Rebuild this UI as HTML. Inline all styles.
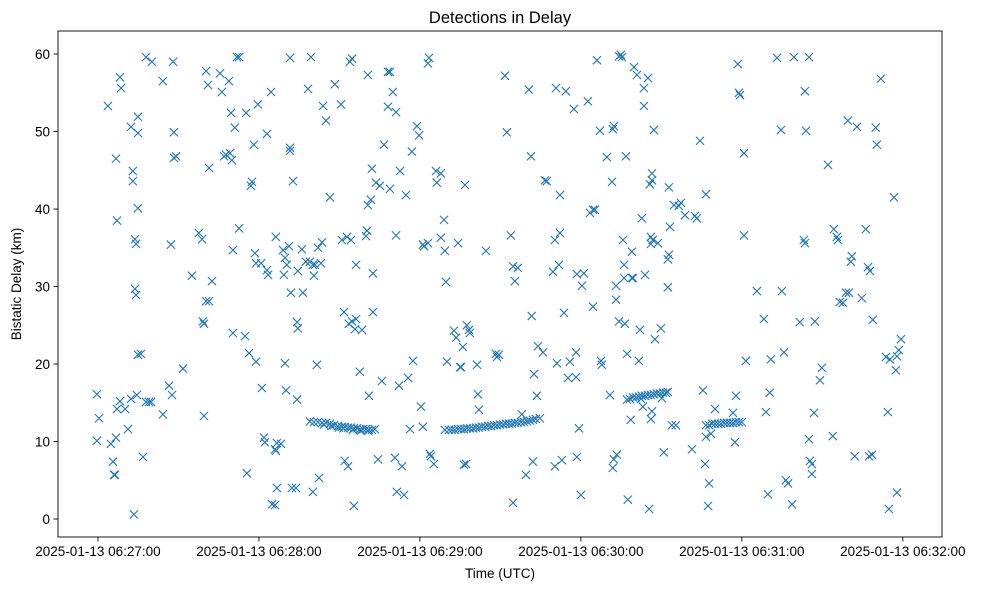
<!DOCTYPE html>
<html><head><meta charset="utf-8"><style>
body{margin:0;background:#fff;}
svg{display:block;font-family:"Liberation Sans","DejaVu Sans",sans-serif;}
</style></head><body>
<svg id="chart" width="985" height="590" xmlns="http://www.w3.org/2000/svg"></svg>
<script>
// seconds after 2025-01-13 06:27:00 , bistatic delay (km)
const scatterT=[-0.4,-0.4,0.4,3.7,4.8,5.6,6.0,6.3,6.7,7.1,8.2,8.2,8.6,6.7,7.1,10.1,11.2,12.3,12.3,13.0,13.0,13.4,13.8,13.8,14.2,14.5,14.9,14.9,14.2,14.9,14.9,16.0,16.8,17.9,17.9,19.0,19.8,20.1,24.2,24.2,26.5,28.0,28.3,28.3,27.2,27.6,29.1,31.7,35.0,37.6,38.8,39.1,39.5,39.5,40.3,40.3,41.4,41.0,41.4,42.5,45.5,46.2,47.0,47.7,48.8,49.2,49.6,49.9,50.3,50.3,51.0,51.8,52.6,52.6,54.8,55.2,55.5,56.3,57.0,57.4,58.1,58.5,58.9,58.9,59.6,60.8,61.1,61.9,62.2,63.0,63.0,63.4,64.5,64.9,66.0,66.7,66.0,66.3,66.3,66.7,68.2,69.0,69.3,69.7,69.7,70.1,70.4,71.2,71.6,71.6,71.6,71.9,72.3,72.7,73.8,74.2,74.5,74.2,74.5,76.0,76.4,77.5,78.3,79.0,79.4,80.1,80.1,80.5,80.9,81.6,82.0,82.4,83.1,83.5,83.9,85.0,86.5,88.3,90.6,90.9,91.7,92.0,92.8,93.2,93.5,93.9,94.3,94.7,94.7,95.4,95.8,96.2,96.2,97.6,98.4,99.9,100.3,100.6,100.6,101.0,101.7,102.1,102.5,102.5,103.6,104.4,105.1,105.8,106.6,108.1,108.1,108.8,108.8,109.9,110.7,111.1,111.1,111.4,112.2,112.6,113.3,114.1,114.8,115.6,116.3,117.0,117.4,118.9,119.7,120.4,121.1,121.1,121.5,123.0,123.0,123.4,123.7,124.1,125.2,126.0,126.3,127.8,127.8,129.0,129.3,129.7,130.1,132.7,133.5,134.2,135.0,135.3,136.0,136.4,136.8,137.2,137.5,138.3,138.6,141.3,141.6,142.0,144.6,148.3,148.7,149.4,151.7,152.4,153.9,154.7,154.7,155.4,156.5,158.0,159.5,160.6,161.4,161.7,162.1,162.5,163.6,164.0,165.9,166.6,167.3,169.6,170.3,170.3,170.7,171.1,171.8,172.2,172.2,172.9,173.7,174.4,175.2,175.9,177.4,178.2,178.2,178.5,178.5,179.3,180.0,180.4,181.1,182.6,183.4,184.5,184.5,185.2,186.0,187.1,187.5,187.8,189.7,190.8,191.6,191.9,191.9,192.3,192.3,193.1,193.1,193.4,194.2,194.2,194.9,195.3,195.7,196.1,196.1,196.4,196.8,197.2,197.5,198.6,199.0,199.0,199.4,199.8,200.9,201.6,202.0,202.4,202.7,203.1,203.5,203.5,203.9,205.0,205.4,205.7,206.1,206.1,206.1,206.5,206.5,206.5,206.8,207.2,207.6,208.7,209.8,210.2,210.9,212.4,212.4,212.8,212.8,213.2,213.9,214.7,215.4,216.5,217.3,218.8,221.4,222.5,223.2,224.4,225.5,226.3,226.6,226.6,227.4,227.8,228.5,230.0,236.7,237.4,237.8,238.5,238.9,239.3,240.8,240.8,241.5,245.6,248.2,249.0,249.7,250.4,250.8,253.1,254.6,254.9,255.7,256.4,257.2,258.7,259.4,261.6,263.1,263.5,263.5,263.9,265.0,265.0,265.4,266.1,266.1,266.9,267.2,269.1,269.8,272.1,273.9,274.3,275.4,275.8,276.5,277.7,278.8,279.5,279.9,280.6,281.0,282.1,282.9,284.7,286.2,287.0,287.7,287.4,288.5,288.8,289.9,290.3,291.8,293.7,294.4,294.8,295.2,296.7,297.4,297.8,297.8,298.5,299.3];
const scatterKm=[16.1,10.1,13.0,53.3,9.7,7.4,5.7,5.7,10.5,14.2,57.0,15.2,55.6,46.5,38.5,14.2,11.6,50.6,15.5,43.6,44.9,0.6,29.7,36.1,35.5,16.0,51.9,49.8,28.9,40.1,21.2,21.3,8.0,59.6,15.1,15.1,15.1,59.0,56.5,13.5,17.2,59.0,49.9,46.6,35.4,16.0,46.8,19.4,31.4,36.9,36.1,25.5,25.2,13.3,57.8,28.1,28.1,56.0,45.3,30.7,57.5,55.1,46.8,47.0,56.5,47.2,52.4,46.3,34.7,24.0,50.5,59.6,37.5,59.6,23.6,52.4,5.9,21.4,43.0,43.5,48.3,34.3,20.3,33.0,53.5,33.0,16.9,10.5,9.9,49.7,32.1,31.5,55.1,1.9,1.8,4.0,9.0,8.8,36.4,9.8,9.7,34.7,31.5,33.7,20.1,16.6,32.8,35.2,59.5,47.9,47.5,29.2,4.0,43.6,4.0,15.4,32.0,25.4,24.6,34.8,29.2,33.2,55.5,33.2,59.6,32.8,3.5,31.4,32.8,19.9,35.0,5.3,33.0,35.7,53.3,51.4,41.5,56.1,53.5,36.0,26.7,7.5,36.4,6.8,25.2,59.0,36.0,59.4,25.5,1.7,24.5,25.8,32.8,19.0,24.4,36.5,37.2,40.5,57.3,15.9,41.2,45.2,31.7,26.7,43.4,7.7,43.0,17.8,48.3,53.2,57.7,57.7,42.6,55.1,7.9,36.6,52.5,3.5,17.2,44.9,6.8,3.1,41.8,18.2,11.6,47.4,20.4,50.7,49.5,14.5,35.4,11.9,35.2,35.6,58.8,59.5,8.4,8.1,7.1,44.9,43.4,44.6,36.3,38.6,34.6,30.6,20.3,24.3,23.4,35.6,19.6,19.6,22.2,7.0,43.1,7.1,25.0,24.4,24.0,19.9,16.1,14.1,34.6,21.3,20.9,21.2,57.2,49.9,36.6,2.1,32.6,30.7,32.4,13.5,5.7,55.4,46.8,26.2,7.4,18.7,15.9,22.3,21.5,43.7,43.6,31.9,36.0,6.8,55.6,20.1,32.8,41.8,36.9,7.6,26.6,55.2,18.2,20.3,52.9,21.5,18.3,31.6,8.0,11.7,3.1,30.1,31.7,53.9,39.5,39.9,27.4,39.9,59.2,50.1,20.4,19.9,46.7,16.0,43.5,50.3,6.6,50.7,7.7,30.1,28.3,8.3,59.7,25.5,59.9,59.6,36.0,32.8,31.1,25.2,46.8,21.3,2.5,12.8,34.5,31.1,31.1,58.3,57.3,20.4,24.4,15.5,38.8,14.5,55.6,53.3,31.5,56.9,1.3,43.2,35.5,36.4,12.9,13.9,44.6,43.7,36.0,50.2,23.2,35.6,24.6,15.6,8.6,29.9,33.5,42.8,34.1,37.7,12.1,40.5,12.1,40.4,40.8,39.2,9.0,39.1,38.8,48.8,16.6,7.1,41.9,10.6,1.7,4.6,11.0,14.2,13.7,9.9,15.9,58.7,55.0,54.7,47.2,36.6,20.4,29.4,25.8,13.8,3.2,16.3,20.6,59.5,50.2,29.4,21.5,5.0,4.6,1.9,59.6,25.4,36.0,35.6,55.2,50.1,59.6,10.3,7.5,7.1,5.8,13.7,25.5,17.9,19.5,45.7,10.7,37.4,36.4,36.0,28.0,27.9,29.2,51.4,29.2,33.2,33.9,8.1,50.6,28.5,37.4,32.5,32.0,8.1,8.3,25.7,50.5,48.3,56.8,20.9,13.8,1.3,20.6,41.5,19.2,21.0,3.4,21.8,23.2];
const track1T=[79.0,80.5,82.0,83.5,85.0,86.5,88.0,89.4,90.9,92.0,93.2,94.3,95.4,96.6,97.7,98.8,99.9,101.0,102.1,103.2,84.2,87.0,89.8,91.5,95.0,98.0,100.5];
const track1Km=[12.6,12.5,12.5,12.4,12.4,12.3,12.1,12.0,11.9,11.9,11.8,11.8,11.7,11.7,11.6,11.6,11.6,11.5,11.5,11.6,12.2,12.0,11.8,11.7,11.5,11.4,11.4];
const track2T=[129.3,130.8,131.9,133.0,134.2,135.3,136.4,137.5,138.6,139.8,140.9,142.0,143.1,144.3,145.4,146.5,147.6,148.7,149.8,151.0,152.1,153.2,154.3,155.4,156.5,157.7,158.8,159.9,161.0,162.1,163.2,164.7];
const track2Km=[11.5,11.5,11.5,11.5,11.6,11.6,11.6,11.7,11.7,11.7,11.8,11.8,11.9,11.9,12.0,12.0,12.1,12.1,12.2,12.2,12.3,12.3,12.3,12.4,12.4,12.5,12.5,12.6,12.7,12.8,12.9,13.0];
const track3T=[197.2,198.3,199.4,200.5,201.6,202.7,203.9,205.0,206.1,207.2,208.3,209.4,210.6,211.7,212.4];
const track3Km=[15.4,15.5,15.7,15.7,15.8,15.9,15.9,16.0,16.0,16.1,16.2,16.2,16.3,16.3,16.4];
const track4T=[226.6,227.8,228.9,230.0,231.1,232.2,233.4,234.5,235.6,236.7,237.8,238.9,240.0];
const track4Km=[12.1,12.1,12.3,12.3,12.3,12.3,12.4,12.4,12.4,12.4,12.5,12.5,12.5];
const xTickSec=[0,60,120,180,240,300];
const xTickLabels=["2025-01-13 06:27:00","2025-01-13 06:28:00","2025-01-13 06:29:00","2025-01-13 06:30:00","2025-01-13 06:31:00","2025-01-13 06:32:00"];
const yTicks=[0,10,20,30,40,50,60];

const NS="http://www.w3.org/2000/svg";
const svg=document.getElementById('chart');
const L=58,R=942,T=31,B=537;
const xMin=-14.9,xMax=314.6,yMin=-2.32,yMax=62.97;
const sx=v=>L+(v-xMin)/(xMax-xMin)*(R-L);
const sy=v=>B-(v-yMin)/(yMax-yMin)*(B-T);
function mk(tag,attrs){const e=document.createElementNS(NS,tag);for(const k in attrs)e.setAttribute(k,attrs[k]);svg.appendChild(e);return e;}

const title=mk('text',{x:(L+R)/2,y:23,'text-anchor':'middle','font-size':'16.5'});


title.textContent='Detections in Delay';

const allT=scatterT.concat(track1T,track2T,track3T,track4T);
const allK=scatterKm.concat(track1Km,track2Km,track3Km,track4Km);
const g=mk('g',{stroke:'#1f77b4','stroke-width':'1.1',fill:'none'});


for(let i=0;i<allT.length;i++){
  const x=sx(allT[i]),y=sy(allK[i]),s=4.1;
  const p=document.createElementNS(NS,'path');
  p.setAttribute('d',`M${x-s},${y-s}L${x+s},${y+s}M${x-s},${y+s}L${x+s},${y-s}`);
  
  
  g.appendChild(p);
}

const frame=mk('rect',{x:L,y:T,width:R-L,height:B-T,fill:'none',stroke:'#000','stroke-width':'0.9'});



xTickSec.forEach((v,i)=>{
  const x=sx(v);
  const t=mk('line',{x1:x,x2:x,y1:B,y2:B+4.5,stroke:'#000','stroke-width':'0.9'});
  
  
  const tx=mk('text',{x:x,y:B+19,'text-anchor':'middle','font-size':'13.5'});
  
  
  tx.textContent=xTickLabels[i];
});
yTicks.forEach(v=>{
  const y=sy(v);
  const t=mk('line',{x1:L-4.5,x2:L,y1:y,y2:y,stroke:'#000','stroke-width':'0.9'});
  
  
  const tx=mk('text',{x:L-8,y:y+5,'text-anchor':'end','font-size':'13.5'});
  
  
  tx.textContent=String(v);
});
const xl=mk('text',{x:(L+R)/2,y:578,'text-anchor':'middle','font-size':'13.5'});


xl.textContent='Time (UTC)';
const yl=mk('text',{x:0,y:0,'text-anchor':'middle','font-size':'13.5',transform:`translate(21,${(T+B)/2}) rotate(-90)`});


yl.textContent='Bistatic Delay (km)';
</script>
</body></html>
